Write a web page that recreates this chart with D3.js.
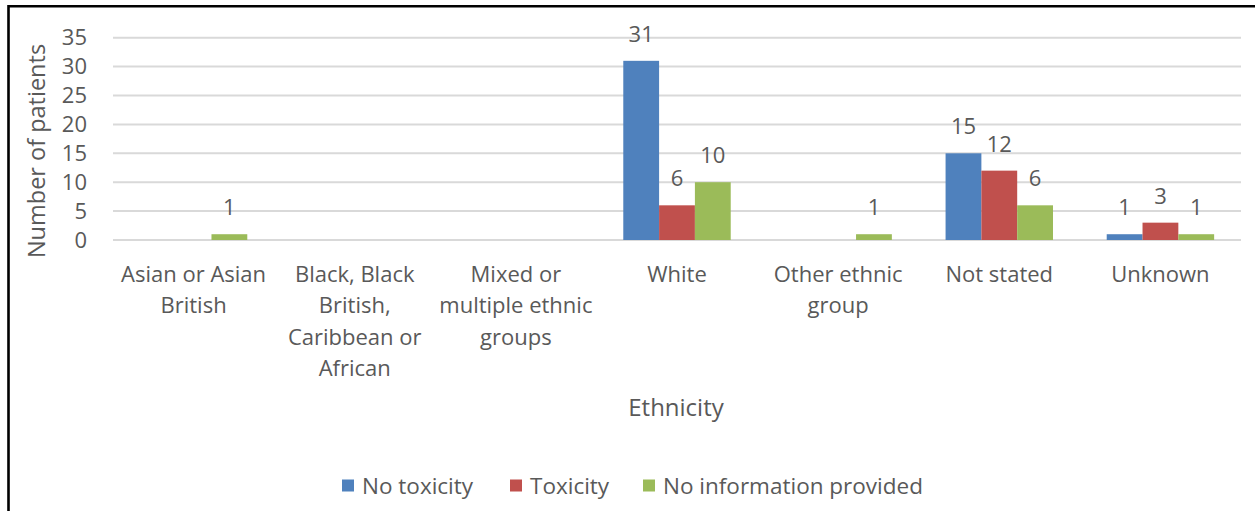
<!DOCTYPE html>
<html>
<head>
<meta charset="utf-8">
<script src="https://cdn.jsdelivr.net/npm/d3@7/dist/d3.min.js"></script>
<style>
  body { margin: 0; background: #fff; overflow: hidden; }
  svg { display: block; }
  text { font-family: "Open Sans", sans-serif; fill: #595959; }
</style>
</head>
<body>
<svg id="chart"></svg>
<script>
// chart data
const categories = ["Asian or Asian British", "Black, Black British, Caribbean or African",
  "Mixed or multiple ethnic groups", "White", "Other ethnic group", "Not stated", "Unknown"];
const tickLabels = [
  ["Asian or Asian", "British"],
  ["Black, Black", "British,", "Caribbean or", "African"],
  ["Mixed or", "multiple ethnic", "groups"],
  ["White"],
  ["Other ethnic", "group"],
  ["Not stated"],
  ["Unknown"]
];
const seriesNames = ["No toxicity", "Toxicity", "No information provided"];
const noToxicity = [0, 0, 0, 31, 0, 15, 1];
const toxicity = [0, 0, 0, 6, 0, 12, 3];
const noInfo = [1, 0, 0, 10, 1, 6, 1];
const yTicks = [0, 5, 10, 15, 20, 25, 30, 35];
const colors = ["#4F81BD", "#C0504D", "#9BBB59"];

const width = 1255;
const height = 511;
const margin = { top: 37.7, left: 113, right: 14, bottom: 271 };

const svg = d3.select("#chart").attr("width", width).attr("height", height);

// border: only the top and left edges show in the picture
svg.append("path")
  .attr("d", `M8.5,${height} V6.2 H${width}`)
  .attr("fill", "none").attr("stroke", "#000").attr("stroke-width", 2.6);

// scales work in page coordinates
const x0 = d3.scaleBand().domain(categories).range([margin.left, width - margin.right]).padding(0);
const x1 = d3.scaleBand().domain(seriesNames).range([0, x0.bandwidth()])
  .paddingInner(0).paddingOuter(0.75);
const y = d3.scaleLinear().domain([0, 35]).range([height - margin.bottom, margin.top]);

// gridlines
svg.selectAll(".grid")
  .data(yTicks)
  .enter().append("line")
  .attr("class", "grid")
  .attr("x1", margin.left).attr("x2", width - margin.right)
  .attr("y1", d => y(d)).attr("y2", d => y(d))
  .attr("stroke", "#D9D9D9").attr("stroke-width", 2);

// y axis
const yAxis = svg.append("g")
  .attr("transform", `translate(${margin.left},0)`)
  .call(d3.axisLeft(y).tickValues(yTicks).tickSize(0).tickPadding(26));
yAxis.select(".domain").remove();
yAxis.selectAll("text")
  .style("font-size", "22px")
  .style("font-family", "'Open Sans', sans-serif")
  .attr("fill", "#595959");

// x axis, labels wrapped by hand like the original
const xAxis = svg.append("g")
  .attr("transform", `translate(0,${y(0)})`)
  .call(d3.axisBottom(x0).tickSize(0).tickFormat(""));
xAxis.select(".domain").remove();
xAxis.selectAll(".tick").each(function(d, i) {
  const t = d3.select(this).append("text")
    .attr("text-anchor", "middle")
    .style("font-size", "22px");
  tickLabels[i].forEach((line, k) => {
    t.append("tspan").attr("x", 0).attr("y", 42 + k * 31.3).text(line);
  });
});

// flatten to one record per bar
const bars = [];
categories.forEach((c, i) => {
  [noToxicity[i], toxicity[i], noInfo[i]].forEach((v, s) => {
    bars.push({ category: c, series: seriesNames[s], s: s, value: v });
  });
});

svg.selectAll(".bar")
  .data(bars)
  .enter().append("rect")
  .attr("class", "bar")
  .attr("x", d => x0(d.category) + x1(d.series))
  .attr("y", d => y(d.value))
  .attr("width", x1.bandwidth())
  .attr("height", d => y(0) - y(d.value))
  .attr("fill", d => colors[d.s]);

// data labels (zeros are not labelled)
svg.selectAll(".label")
  .data(bars.filter(d => d.value > 0))
  .enter().append("text")
  .attr("class", "label")
  .attr("x", d => x0(d.category) + x1(d.series) + x1.bandwidth() / 2)
  .attr("y", d => y(d.value) - 19)
  .attr("text-anchor", "middle")
  .style("font-size", "22px")
  .text(d => d.value);

// axis titles
svg.append("text")
  .attr("x", 676).attr("y", 416)
  .attr("text-anchor", "middle")
  .style("font-size", "24px")
  .text("Ethnicity");

svg.append("text")
  .attr("transform", "translate(45,151) rotate(-90)")
  .attr("text-anchor", "middle")
  .style("font-size", "23.5px")
  .text("Number of patients");

// legend
const legendX = [342, 510, 643];
const legend = svg.selectAll(".legend")
  .data(seriesNames)
  .enter().append("g")
  .attr("class", "legend")
  .attr("transform", (d, i) => `translate(${legendX[i]},486)`);

legend.append("rect")
  .attr("x", 0).attr("y", -6.5)
  .attr("width", 12).attr("height", 12)
  .attr("fill", (d, i) => colors[i]);

legend.append("text")
  .attr("x", 20).attr("y", 8)
  .style("font-size", "22.5px")
  .text(d => d);
</script>
</body>
</html>
